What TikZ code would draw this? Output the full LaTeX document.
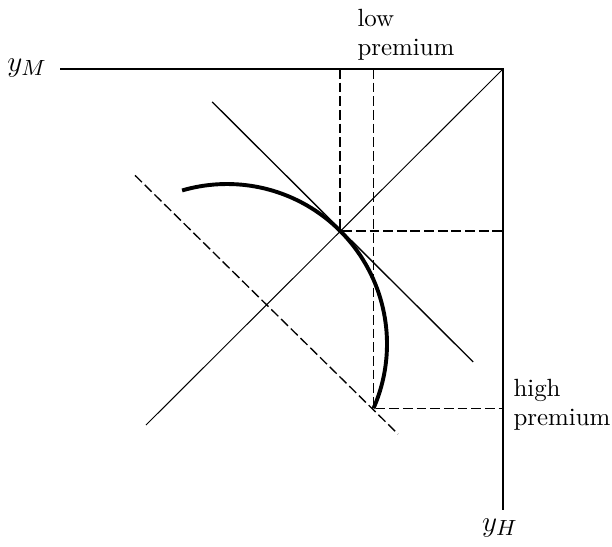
\documentclass[tikz,border=0pt]{standalone}
\usetikzlibrary{calc}
\begin{document}
\begin{tikzpicture}[x=0.41pt,y=-0.41pt,
  frame/.style={line width=0.55pt},
  thinline/.style={line width=0.4pt},
  guide/.style={line width=0.55pt, dash pattern=on 4pt off 1.6pt},
  curve/.style={line width=1.6pt},
  axlbl/.style={inner sep=0pt, font=\fontsize{13}{15}\selectfont},
  lbl/.style={inner sep=0pt, align=left, font=\fontsize{10.2}{11.5}\selectfont}]
\useasboundingbox (0,0) rectangle (612,546);
% axes
\coordinate (C) at (503,69);
\coordinate (L) at (60,69);
\coordinate (D) at (503,510);
\draw[frame] (L) -- (C) -- (D);
\node[axlbl, anchor=base west] (yM) at (7,71) {$y_M$};
\node[axlbl, anchor=base] (yH) at (500,531) {$y_H$};
% diagonal
\coordinate (G) at (146,425);
\draw[thinline] (G) -- (C);
% circle arc
\coordinate (M) at (227,344);
\coordinate (T) at ($(M)+({160*cos(45)},{-160*sin(45)})$);
\coordinate (B) at ($(M)+({160*cos(-23.7)},{-160*sin(-23.7)})$);
\draw[curve] plot[domain=106.3:-23.7, samples=80] ({227+160*cos(\x)},{344-160*sin(\x)});
% tangent line
\coordinate (T1) at ($(T)+(-128,-129)$);
\coordinate (T2) at ($(T)+(133,131)$);
\draw[frame] (T1) -- (T2);
% parallel dashed line
\coordinate (P1) at ($(B)+(-238.5,-233)$);
\coordinate (P2) at ($(B)+(24.5,25.7)$);
\draw[guide] (P1) -- (P2);
% guide lines
\coordinate (Ttop) at (T |- C);
\coordinate (Tright) at (C |- T);
\coordinate (Btop) at (B |- C);
\coordinate (Bright) at (C |- B);
\draw[guide] (Ttop) -- (T) -- (Tright);
\draw[guide] (Btop) -- (B) -- (Bright);
% labels
\node[lbl, anchor=base west] (low) at (357,55) {low\\premium};
\node[lbl, anchor=base west] (high) at (513,425) {high\\premium};
\end{tikzpicture}
\end{document}
